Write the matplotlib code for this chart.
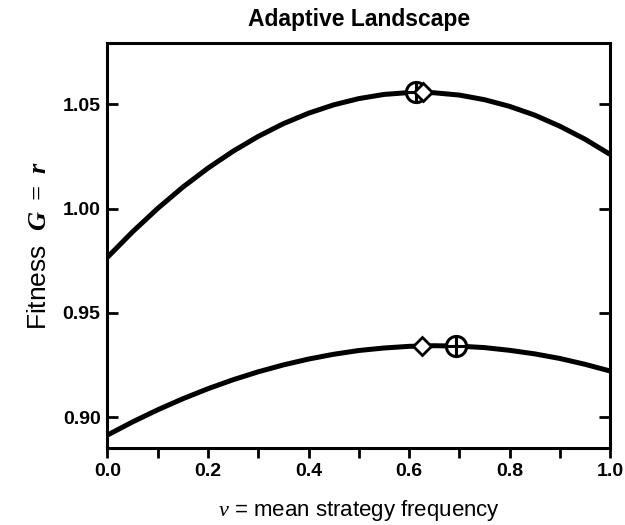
import matplotlib
matplotlib.use("Agg")
import matplotlib.pyplot as plt
from matplotlib.ticker import MultipleLocator

plt.rcParams['font.family'] = ['Liberation Sans', 'DejaVu Sans']
plt.rcParams['mathtext.fontset'] = 'custom'
plt.rcParams['mathtext.rm'] = 'Liberation Sans'
plt.rcParams['mathtext.it'] = 'Liberation Serif:italic'
plt.rcParams['mathtext.bf'] = 'Liberation Serif:bold:italic'

# Data
v = [0.00, 0.05, 0.10, 0.15, 0.20, 0.25, 0.30, 0.35, 0.40, 0.45, 0.50,
     0.55, 0.60, 0.65, 0.70, 0.75, 0.80, 0.85, 0.90, 0.95, 1.00]
G_upper = [0.9767, 0.9889, 1.0001, 1.0103, 1.0194, 1.0275, 1.0346, 1.0407, 1.0457, 1.0497, 1.0527,
           1.0547, 1.0556, 1.0555, 1.0544, 1.0522, 1.0490, 1.0448, 1.0395, 1.0333, 1.0260]
G_lower = [0.8915, 0.8978, 0.9036, 0.9089, 0.9137, 0.9180, 0.9218, 0.9251, 0.9279, 0.9302, 0.9320,
           0.9332, 0.9340, 0.9343, 0.9341, 0.9334, 0.9321, 0.9304, 0.9282, 0.9254, 0.9222]

circle_v = [0.613, 0.694]
circle_G = [1.0560, 0.9341]
diamond_v = [0.627, 0.626]
diamond_G = [1.0560, 0.9343]

fig = plt.figure(figsize=(6.25, 5.25), dpi=100)
ax = fig.add_axes([0.172, 0.1467, 0.804, 0.772])

ax.plot(v, G_upper, color='black', lw=3.6, solid_capstyle='butt', solid_joinstyle='round', zorder=2)
ax.plot(v, G_lower, color='black', lw=3.6, solid_capstyle='butt', solid_joinstyle='round', zorder=2)

ax.plot(circle_v, circle_G, ls='none', marker='o', ms=14.5, mfc='white', mec='black', mew=2.2, zorder=3)
ax.plot(circle_v, circle_G, ls='none', marker='+', ms=14.5, mec='black', mew=2.2, zorder=4)
ax.plot(diamond_v, diamond_G, ls='none', marker='D', ms=9.5, mfc='white', mec='black', mew=2.0, zorder=5)

ax.set_xlim(0, 1.0)
ax.set_ylim(0.8853, 1.0795)

ax.xaxis.set_major_locator(MultipleLocator(0.2))
ax.xaxis.set_minor_locator(MultipleLocator(0.1))
ax.yaxis.set_major_locator(MultipleLocator(0.05))
ax.xaxis.set_major_formatter(plt.FuncFormatter(lambda x, p: f"{x:.1f}"))
ax.yaxis.set_major_formatter(plt.FuncFormatter(lambda y, p: f"{y:.2f}"))

for s in ax.spines.values():
    s.set_linewidth(2.2)

ax.tick_params(axis='x', which='major', direction='out', length=7.5, width=2.0,
               bottom=True, top=False, labelsize=14, pad=3)
ax.tick_params(axis='x', which='minor', direction='out', length=7.5, width=2.0,
               bottom=True, top=False)
ax.tick_params(axis='y', which='major', direction='in', length=8, width=2.0,
               left=True, right=True, labelsize=14, pad=5)
for lab in ax.get_xticklabels() + ax.get_yticklabels():
    lab.set_fontweight('bold')

ax.set_title("Adaptive Landscape", fontsize=16.5, fontweight='bold', pad=12)
ax.set_xlabel(r"$\it{v}$ = mean strategy frequency", fontsize=16, labelpad=13)
ax.set_ylabel(r"Fitness  $\mathbf{G}$ $\mathbf{=}$ $\mathbf{r}$", fontsize=19, labelpad=8)

fig.savefig("out.png", dpi=100)
